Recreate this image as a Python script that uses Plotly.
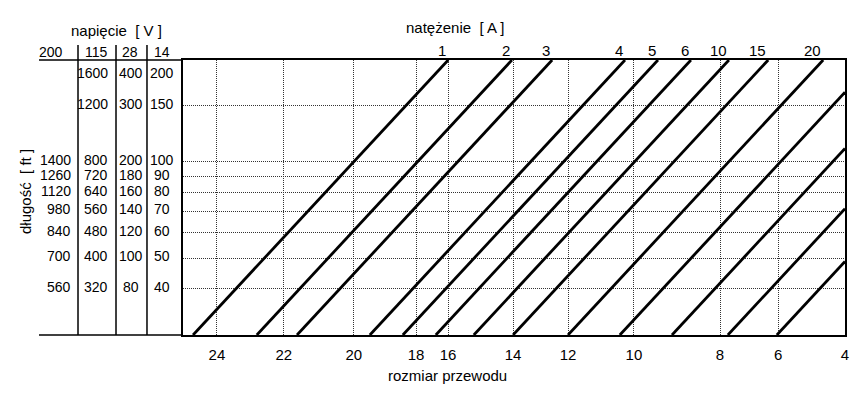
import numpy as np
import plotly.graph_objects as go

# ---------------- data ----------------
gauge_labels = ["24", "22", "20", "18", "16", "14", "12", "10", "8", "6", "4"]
gauge_pos = [24.0, 21.87, 19.64, 17.66, 16.64, 14.57, 12.82, 10.72, 7.98, 6.13, 4.0]

voltages = ["200", "115", "28", "14"]
len_200V = [None, None, 1400, 1260, 1120, 980, 840, 700, 560]
len_115V = [1600, 1200, 800, 720, 640, 560, 480, 400, 320]
len_28V = [400, 300, 200, 180, 160, 140, 120, 100, 80]
len_14V = [200, 150, 100, 90, 80, 70, 60, 50, 40]

current_labels = ["1", "2", "3", "4", "5", "6", "10", "15", "20"]
# gauge-scale position where each current line leaves the bottom edge
line_start_gauge = [24.76, 22.73, 21.45, 19.13, 18.08, 17.03, 15.82, 14.57, 12.82,
                    11.17, 9.51, 7.73, 6.17]

# ---------------- geometry ----------------
X_RANGE = [25.08, 4.0]          # reversed gauge scale
Y_LOG = [1.4577, 2.3197]        # log10 of length (14 V column)
SLOPE = 0.1061                  # decades of length per gauge step

FONT = "Liberation Sans, Arial, sans-serif"
TXT = "#000"

fig = go.Figure()

tops = []
for g0 in line_start_gauge:
    g_top = g0 - (Y_LOG[1] - Y_LOG[0]) / SLOPE
    if g_top >= X_RANGE[1]:
        g_end, y_end = g_top, 10 ** Y_LOG[1]
    else:
        g_end, y_end = X_RANGE[1], 10 ** (Y_LOG[0] + SLOPE * (g0 - X_RANGE[1]))
    tops.append(g_top)
    fig.add_trace(go.Scatter(x=[g0, g_end], y=[10 ** Y_LOG[0], y_end], mode="lines",
                             line=dict(color="black", width=2.8), showlegend=False,
                             hoverinfo="skip"))

annotations = []
for lab, gt in zip(current_labels, tops):
    annotations.append(dict(x=gt, xref="x", y=1.036, yref="paper", text=lab,
                            showarrow=False, xanchor="right", yanchor="middle",
                            font=dict(family=FONT, size=15, color=TXT)))

# left table values
col_x = [-0.1662, -0.1103, -0.0785, -0.0317]
col_anchor = ["right", "right", "center", "center"]
cols = [len_200V, len_115V, len_28V, len_14V]
for ci, col in enumerate(cols):
    for ri, v in enumerate(col):
        if v is None:
            continue
        ref = len_14V[ri]
        shift = 2 if ref <= 150 else -7
        annotations.append(dict(x=col_x[ci], xref="paper", y=np.log10(ref), yref="y",
                                text=str(v), showarrow=False, xanchor=col_anchor[ci],
                                yanchor="middle", yshift=shift,
                                font=dict(family=FONT, size=14, color=TXT)))

head_x = [-0.1782, -0.1103, -0.0808, -0.0317]
head_anchor = ["right", "right", "center", "center"]
for hx, ha, v in zip(head_x, head_anchor, voltages):
    annotations.append(dict(x=hx, xref="paper", y=1.029, yref="paper", text=v,
                            showarrow=False, xanchor=ha, yanchor="middle",
                            font=dict(family=FONT, size=14, color=TXT)))

annotations += [
    dict(x=-0.1012, xref="paper", y=1.109, yref="paper", text="napięcie  [ V ]",
         showarrow=False, xanchor="center", yanchor="middle",
         font=dict(family=FONT, size=15, color=TXT)),
    dict(x=0.4109, xref="paper", y=1.118, yref="paper", text="natężenie  [ A ]",
         showarrow=False, xanchor="center", yanchor="middle",
         font=dict(family=FONT, size=15, color=TXT)),
    dict(x=0.3988, xref="paper", y=-0.1455, yref="paper", text="rozmiar przewodu",
         showarrow=False, xanchor="center", yanchor="middle",
         font=dict(family=FONT, size=15, color=TXT)),
    dict(x=-0.2387, xref="paper", y=0.5236, yref="paper", text="długość  [ ft ]",
         showarrow=False, xanchor="center", yanchor="middle", textangle=-90,
         font=dict(family=FONT, size=15, color=TXT)),
]

shapes = [
    dict(type="line", xref="paper", yref="paper", x0=-0.2175, x1=0, y0=1, y1=1,
         line=dict(color="black", width=1.5)),
    dict(type="line", xref="paper", yref="paper", x0=-0.2175, x1=0, y0=0, y1=0,
         line=dict(color="black", width=1.5)),
]
for vx in [-0.1586, -0.1012, -0.0544]:
    shapes.append(dict(type="line", xref="paper", yref="paper", x0=vx, x1=vx,
                       y0=0, y1=1.0545, line=dict(color="black", width=1.5)))

GRID = dict(showgrid=True, gridcolor="#333", griddash="1px,1px", gridwidth=1)

fig.update_layout(
    width=864, height=394,
    margin=dict(l=183, r=19, t=60, b=59),
    paper_bgcolor="white", plot_bgcolor="white",
    showlegend=False,
    annotations=annotations, shapes=shapes,
    xaxis=dict(range=X_RANGE, tickvals=gauge_pos, ticktext=gauge_labels, **GRID,
               zeroline=False, showline=True, mirror=True, linecolor="black",
               linewidth=1.5, ticks="", tickfont=dict(family=FONT, size=15, color=TXT),
               ticklabelstandoff=5),
    yaxis=dict(type="log", range=Y_LOG, tickvals=len_14V[1:], showticklabels=False, **GRID,
               zeroline=False, showline=True, mirror=True, linecolor="black",
               linewidth=1.5, ticks=""),
)

fig.write_html("out.html")
